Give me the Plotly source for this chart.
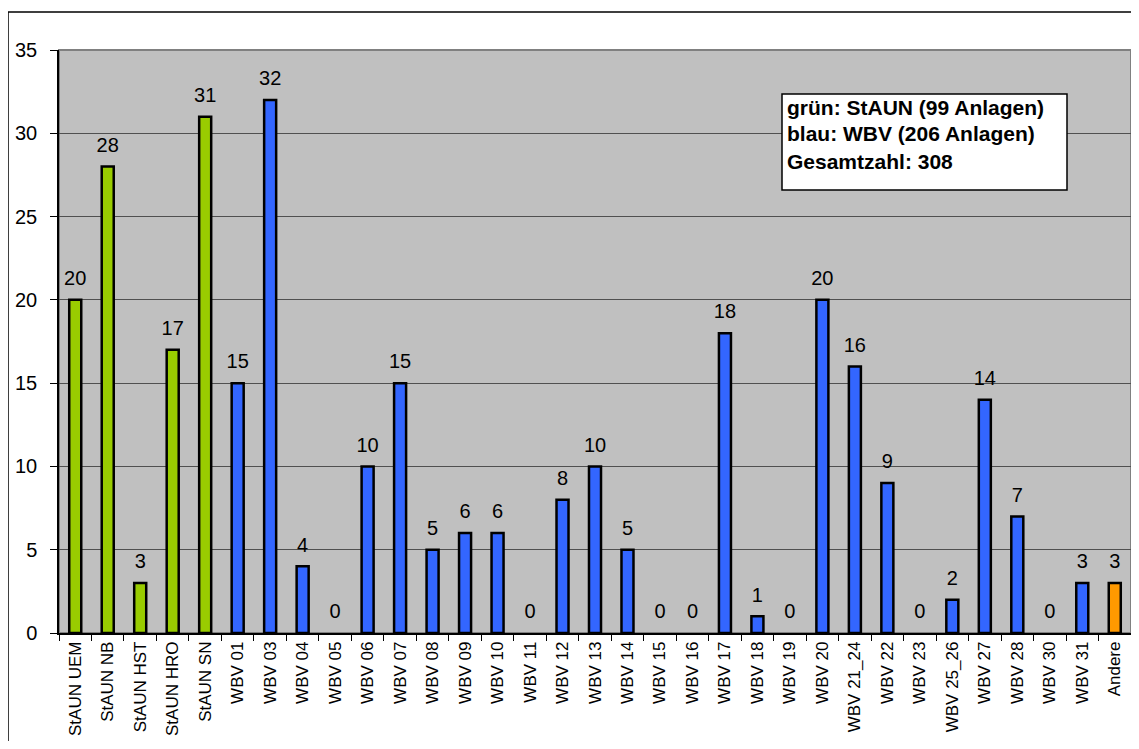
import plotly.graph_objects as go

categories = ["StAUN UEM", "StAUN NB", "StAUN HST", "StAUN HRO", "StAUN SN",
              "WBV 01", "WBV 03", "WBV 04", "WBV 05", "WBV 06", "WBV 07", "WBV 08",
              "WBV 09", "WBV 10", "WBV 11", "WBV 12", "WBV 13", "WBV 14", "WBV 15",
              "WBV 16", "WBV 17", "WBV 18", "WBV 19", "WBV 20", "WBV 21_24", "WBV 22",
              "WBV 23", "WBV 25_26", "WBV 27", "WBV 28", "WBV 30", "WBV 31", "Andere"]
values = [20, 28, 3, 17, 31,
          15, 32, 4, 0, 10, 15, 5,
          6, 6, 0, 8, 10, 5, 0,
          0, 18, 1, 0, 20, 16, 9,
          0, 2, 14, 7, 0, 3, 3]
groups = ["StAUN"] * 5 + ["WBV"] * 27 + ["Andere"]
group_colors = {"StAUN": "#99CC00", "WBV": "#3366FF", "Andere": "#FF9900"}
legend_lines = ["grün: StAUN (99 Anlagen)", "blau: WBV (206 Anlagen)", "Gesamtzahl: 308"]
y_ticks = [0, 5, 10, 15, 20, 25, 30, 35]

FONT = "Liberation Sans, Arial, sans-serif"
OFF = 8  # page body margin
W, H = 1139 - 2 * OFF, 749 - 2 * OFF
# plot area in screen pixels
L, R, T, B = 59, 1131, 50, 633

def px(x):
    return (x - L) / (R - L)

def py(y):
    return (B - y) / (B - T)

fig = go.Figure()
fig.add_trace(go.Bar(
    x=categories, y=values,
    marker=dict(color=[group_colors[g] for g in groups],
                line=dict(color="black", width=[2.5 if v > 0 else 0 for v in values])),
    width=0.37, showlegend=False, hoverinfo="x+y",
))
fig.add_trace(go.Scatter(
    x=categories, y=values, mode="markers+text", text=[str(v) for v in values],
    marker=dict(size=14, opacity=0),
    textposition="top center", textfont=dict(family=FONT, size=20, color="black"),
    showlegend=False, hoverinfo="skip", cliponaxis=False,
))

shapes = [
    # outer chart frame
    dict(type="rect", xref="paper", yref="paper",
         x0=px(8), x1=px(1150), y0=py(760), y1=py(12),
         line=dict(color="black", width=1.5), fillcolor="rgba(0,0,0,0)", layer="below"),
    # plot area border
    dict(type="rect", xref="paper", yref="paper", x0=0, x1=1, y0=0, y1=1,
         line=dict(color="#808080", width=2), fillcolor="rgba(0,0,0,0)", layer="below"),
    # legend box
    dict(type="rect", xref="paper", yref="paper",
         x0=px(782), x1=px(1067), y0=py(190), y1=py(94),
         line=dict(color="black", width=1.5), fillcolor="white", layer="above"),
]
annotations = []
for i, line in enumerate(legend_lines):
    annotations.append(dict(
        xref="paper", yref="paper", x=px(785), y=py(107 + 27 * i),
        xanchor="left", yanchor="middle", showarrow=False, text="<b>%s</b>" % line,
        font=dict(family=FONT, size=21, color="black"),
    ))

fig.update_layout(
    width=W, height=H,
    margin=dict(l=L - OFF, r=max(0, W - (R - OFF)), t=T - OFF, b=H - (B - OFF), pad=0),
    paper_bgcolor="white", plot_bgcolor="#C0C0C0",
    font=dict(family=FONT, color="black"),
    shapes=shapes, annotations=annotations,
    xaxis=dict(
        type="category", tickangle=-90, tickfont=dict(family=FONT, size=17),
        showline=True, linecolor="black", linewidth=1.5,
        ticks="outside", ticklen=6, tickcolor="black", tickson="boundaries",
        showgrid=False, zeroline=False, range=[-0.5, len(categories) - 0.5],
    ),
    yaxis=dict(
        range=[0, 35], tickvals=y_ticks, tickfont=dict(family=FONT, size=20),
        showline=True, linecolor="black", linewidth=1.5,
        ticks="outside", ticklen=7, tickcolor="black", ticklabelstandoff=9,
        showgrid=True, gridcolor="#505050", gridwidth=1, zeroline=False,
    ),
)

fig.write_html("out.html")
